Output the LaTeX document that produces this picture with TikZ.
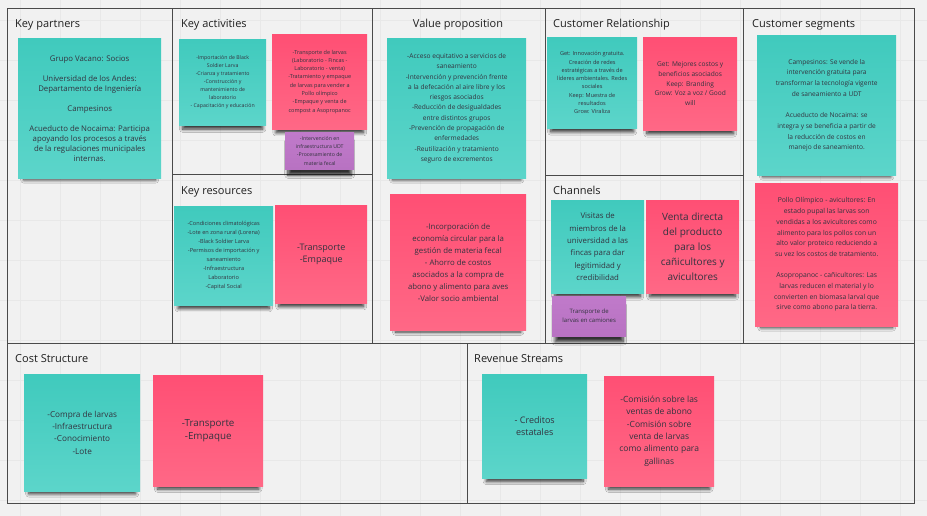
\documentclass[tikz,border=0pt]{standalone}
\usepackage{fontspec}
\setmainfont{Open Sans}
\usetikzlibrary{shadows.blur}
\usepackage{xcolor}

\definecolor{canvas}{HTML}{F1F1F1}
\definecolor{gridcol}{HTML}{E8E8E8}
\definecolor{framecol}{HTML}{4A4A4A}
\definecolor{notetext}{HTML}{33333F}
\definecolor{tealtop}{HTML}{40CABD}
\definecolor{tealbot}{HTML}{5CD5CA}
\definecolor{pinktop}{HTML}{FF4F74}
\definecolor{pinkbot}{HTML}{FF6886}
\definecolor{purptop}{HTML}{C07ACA}
\definecolor{purpbot}{HTML}{B872C2}

\begin{document}
\begin{tikzpicture}[x=1pt, y=-1pt,
	board/.style={draw=framecol, line width=1pt},
	gridline/.style={draw=gridcol, line width=0.5pt},
	heading/.style={anchor=base west, inner sep=0pt, text=black!88, font=\fontsize{11}{13}\selectfont},
	sticky/.style={anchor=north west, inner sep=0pt, align=center, text=notetext,
		blur shadow={shadow xshift=0pt, shadow yshift=-8pt, shadow scale=0.92, shadow opacity=80, shadow blur radius=3.5pt, shadow blur steps=8}},
	sz/.style 2 args={minimum width=#1pt, minimum height=#2pt},
	tealnote/.style={sticky, top color=tealtop, bottom color=tealbot},
	pinknote/.style={sticky, top color=pinktop, bottom color=pinkbot},
	purplenote/.style={sticky, top color=purptop, bottom color=purpbot},]

% canvas and grid
\fill[canvas] (0,0) rectangle (927,516);
\useasboundingbox (0,0) rectangle (927,516);
\foreach \gx in {20,60,...,920} \draw[gridline] (\gx,0) -- (\gx,516);
\foreach \gy in {20,60,...,500} \draw[gridline] (0,\gy) -- (927,\gy);

% canvas frame
\draw[board] (7,9) rectangle (914,503);
\draw[board] (172,9) -- (172,343);
\draw[board] (372,9) -- (372,343);
\draw[board] (545,9) -- (545,343);
\draw[board] (743,9) -- (743,343);
\draw[board] (172,175) -- (372,175);
\draw[board] (545,176) -- (743,176);
\draw[board] (7,343) -- (914,343);
\draw[board] (467,343) -- (467,503);

% headings
\node[heading] (hkp) at (15,28) {Key partners};
\node[heading] (hka) at (181,28) {Key activities};
\node[heading, anchor=base] (hvp) at (458,28) {Value proposition};
\node[heading] (hcr) at (553,28) {Customer Relationship};
\node[heading] (hcs) at (752,28) {Customer segments};
\node[heading] (hkr) at (181,195) {Key resources};
\node[heading] (hch) at (553,195) {Channels};
\node[heading] (hco) at (15,362) {Cost Structure};
\node[heading] (hrv) at (474,362) {Revenue Streams};

% key partners
\node[tealnote, sz={143}{140}, font=\fontsize{7.8}{10}\selectfont] (kp) at (18,38)
	{Grupo Vacano: Socios\\[10pt]
	Universidad de los Andes:\\Departamento de Ingeniería\\[10pt]
	Campesinos\\[10pt]
	Acueducto de Nocaima: Participa\\apoyando los procesos a través\\de la regulaciones municipales\\internas.};

% key activities
\node[tealnote, sz={87}{86}, font=\fontsize{5.2}{8}\selectfont] (kat) at (179,39)
	{-Importación de Black\\Soldier Larva\\-Crianza  y tratamiento\\-Construcción y\\mantenimiento de\\laboratorio\\- Capacitación y educación};
\node[pinknote, sz={95}{95}, font=\fontsize{5.5}{8.3}\selectfont] (kap) at (272,34)
	{-Transporte de larvas\\(Laboratorio - Fincas -\\Laboratorio - venta)\\-Tratamiento y empaque\\de larvas para vender a\\Pollo olímpico\\-Empaque y venta de\\compost a Asopropanoc};
\node[purplenote, sz={69}{37}, font=\fontsize{5.2}{8.3}\selectfont] (kapu) at (285,132)
	{-Intervención en\\infraestructura UDT\\-Procesamiento de\\materia fecal};

% key resources
\node[tealnote, sz={99}{99}, font=\fontsize{5.6}{9}\selectfont] (krt) at (174,206)
	{-Condiciones climatológicas\\-Lote en zona rural (Lorena)\\-Black Soldier Larva\\-Permisos de importación y\\saneamiento\\-Infraestructura\\Laboratorio\\-Capital Social};
\node[pinknote, sz={92}{98}, font=\fontsize{9}{11.7}\selectfont] (krp) at (275,205)
	{-Transporte\\-Empaque};

% value proposition
\node[tealnote, sz={139}{140}, font=\fontsize{6.6}{10.3}\selectfont] (vpt) at (387,38)
	{-Acceso equitativo a servicios de\\saneamiento\\-Intervención y prevención frente\\a la defecación al aire libre y los\\riesgos asociados\\-Reducción de desigualdades\\entre distintos grupos\\-Prevención de propagación de\\enfermedades\\-Reutilización y tratamiento\\seguro de excrementos};
\node[pinknote, sz={136}{136}, font=\fontsize{7.8}{12}\selectfont] (vpp) at (390,194)
	{-Incorporación de\\economía circular para la\\gestión de materia fecal\\- Ahorro de costos\\asociados a la compra de\\abono y alimento para aves\\-Valor socio ambiental};

% customer relationship
\node[tealnote, sz={90}{91}, font=\fontsize{5.6}{8.3}\selectfont] (crt) at (547,37)
	{Get: Innovación gratuita.\\Creación de redes\\estratégicas a través de\\líderes ambientales. Redes\\sociales\\Keep: Muestra de\\resultados\\Grow: Viraliza};
\node[pinknote, sz={94}{93}, font=\fontsize{6.6}{9.7}\selectfont] (crp) at (643,37)
	{Get: Mejores costos y\\beneficios asociados\\Keep: Branding\\Grow: Voz a voz / Good\\will};

% channels
\node[tealnote, sz={93}{93}, font=\fontsize{7.8}{12.3}\selectfont] (cht) at (551,200)
	{Visitas de\\miembros de la\\universidad a las\\fincas para dar\\legitimidad y\\credibilidad};
\node[pinknote, sz={93}{93}, font=\fontsize{10}{15}\selectfont] (chp) at (646,200)
	{Venta directa\\del producto\\para los\\cañicultores y\\avicultores};
\node[purplenote, sz={74}{40}, font=\fontsize{6}{9}\selectfont] (chpu) at (552,296)
	{Transporte de\\larvas en camiones};

% customer segments
\node[tealnote, sz={139}{140}, font=\fontsize{6.6}{10.7}\selectfont] (cst) at (757,35)
	{Campesinos: Se vende la\\intervención gratuita para\\transformar la tecnología vigente\\de saneamiento a UDT\\[10.7pt]
	Acueducto de Nocaima: se\\integra y se beneficia a partir de\\la reducción de costos en\\manejo de saneamiento.};
\node[pinknote, sz={143}{143}, font=\fontsize{6.8}{10.7}\selectfont] (csp) at (755,183)
	{Pollo Olímpico - avicultores: En\\estado pupal las larvas son\\vendidas a los avicultores como\\alimento para los pollos con un\\alto valor proteico reduciendo a\\su vez los costos de tratamiento.\\[10.7pt]
	Asopropanoc - cañicultores: Las\\larvas reducen el material y lo\\convierten en biomasa larval que\\sirve como abono para la tierra.};

% cost structure
\node[tealnote, sz={116}{117}, font=\fontsize{8.2}{12.3}\selectfont] (cot) at (24,374)
	{-Compra de larvas\\-Infraestructura\\-Conocimiento\\-Lote};
\node[pinknote, sz={110}{111}, font=\fontsize{9.8}{13.3}\selectfont] (cop) at (153,375)
	{-Transporte\\-Empaque};

% revenue streams
\node[tealnote, sz={105}{104}, font=\fontsize{9}{12.7}\selectfont] (rvt) at (482,374)
	{- Creditos\\estatales};
\node[pinknote, sz={110}{110}, font=\fontsize{8.5}{12.3}\selectfont] (rvp) at (604,376)
	{-Comisión sobre las\\ventas de abono\\-Comisión sobre\\venta de larvas\\como alimento para\\gallinas};

\end{tikzpicture}
\end{document}
